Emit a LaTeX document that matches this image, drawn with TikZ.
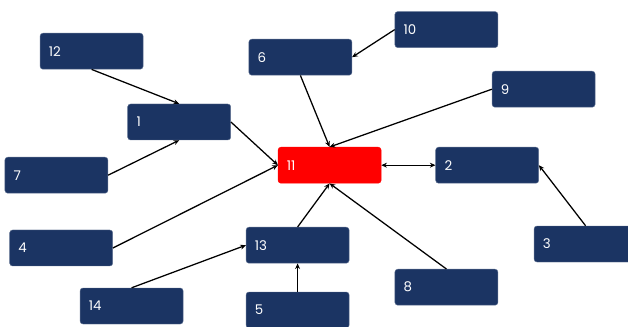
\documentclass[tikz,border=0pt]{standalone}
\usepackage{fontspec}
\setmainfont{Poppins}
\usepackage{tikz}
\usetikzlibrary{arrows.meta}
\definecolor{boxblue}{RGB}{27,52,99}
\definecolor{boxred}{RGB}{255,0,0}
\newcommand{\boxwidth}{2.575cm}
\newcommand{\boxheight}{0.9cm}

\begin{document}
\begin{tikzpicture}[
  idea/.style={fill=boxblue, draw=boxblue!70!white, line width=0.3pt, rounded corners=2pt,
    minimum width=\boxwidth, minimum height=\boxheight, inner xsep=0.22cm,
    text width=\boxwidth-0.44cm, align=left, text=white, font=\fontsize{9.5}{12}\selectfont},
  core/.style={idea, fill=boxred, draw=boxred},
  link/.style={line width=0.9pt, -{Stealth[length=4pt,width=3.5pt]}}
]
\useasboundingbox (0,0) rectangle (15.7,-8.175);
\node[idea] (12) at (2.29, -1.28) {12};
\node[idea] (6) at (7.51, -1.43) {6};
\node[idea] (1) at (4.48, -3.05) {1};
\node[idea] (10) at (11.16, -0.74) {10};
\node[idea] (9) at (13.59, -2.23) {9};
\node[core] (11) at (8.24, -4.13) {11};
\node[idea] (2) at (12.18, -4.13) {2};
\node[idea] (7) at (1.41, -4.38) {7};
\node[idea] (4) at (1.53, -6.20) {4};
\node[idea] (13) at (7.44, -6.13) {13};
\node[idea] (14) at (3.29, -7.65) {14};
\node[idea] (5) at (7.44, -7.75) {5};
\node[idea] (3) at (14.64, -6.10) {3};
\node[idea] (8) at (11.16, -7.18) {8};
%arrows
\draw[link] (12.south) -- (1.north);
\draw[link] (7.east) -- (1.south);
\draw[link] (1.east) -- (11.west);
\draw[link] (4.east) -- (11.west);
\draw[link] (6.south) -- (11.north);
\draw[link] (10.west) -- (6.east);
\draw[link] (9.west) -- (11.north);
\draw[link, {Stealth[length=4pt,width=3.5pt]}-{Stealth[length=4pt,width=3.5pt]}] (11.east) -- (2.west);
\draw[link] (3.north) -- (2.east);
\draw[link] (8.north) -- (11.south);
\draw[link] (13.north) -- (11.south);
\draw[link] (14.north) -- (13.west);
\draw[link] (5.north) -- (13.south);
\end{tikzpicture}
\end{document}
